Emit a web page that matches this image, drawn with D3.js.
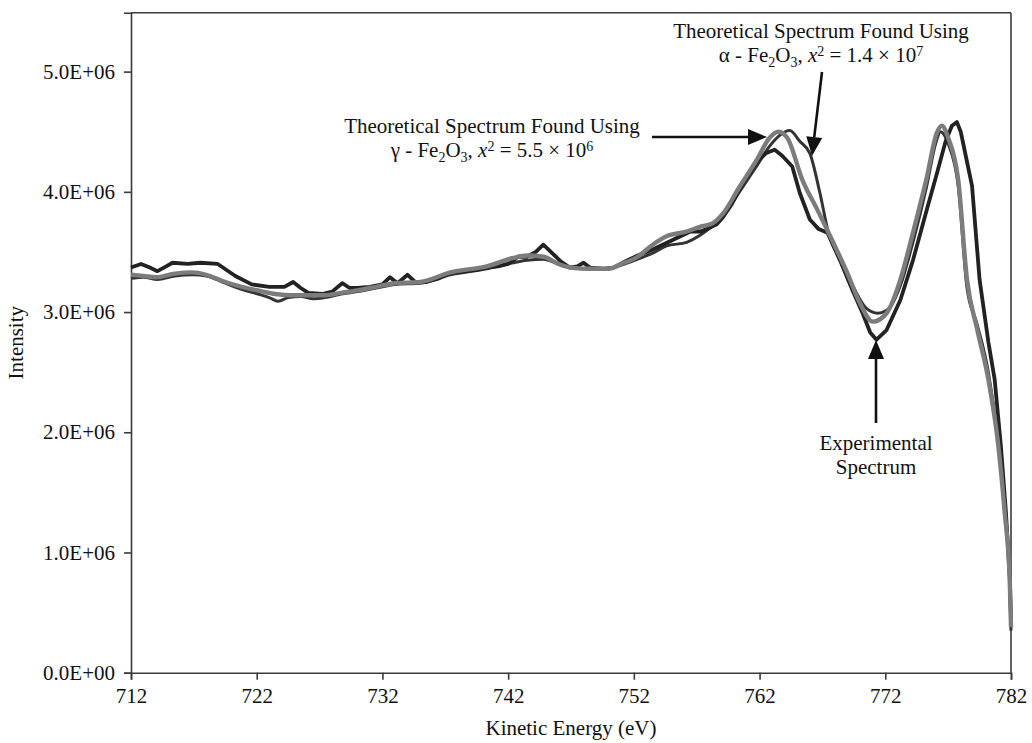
<!DOCTYPE html>
<html><head><meta charset="utf-8">
<script src="https://cdn.jsdelivr.net/npm/d3@7/dist/d3.min.js"></script>
<style>
html,body{margin:0;padding:0;background:#fff;}
svg{display:block;font-family:"Liberation Serif","Times New Roman",serif;}
</style></head>
<body>
<svg id="chart" width="1032" height="743"></svg>
<script>
// ---- data (Kinetic Energy eV, Intensity) ----
const expE = [712.0,712.8,713.5,714.1,714.8,715.3,716.5,717.5,718.9,719.6,720.3,721.6,723.0,724.2,724.9,725.5,726.1,727.2,728.0,728.8,729.4,730.0,731.0,732.0,732.6,733.2,734.0,734.6,735.5,736.5,737.5,738.5,739.5,740.3,741.2,742.0,742.8,743.5,744.2,744.8,745.5,746.2,746.9,747.5,748.0,748.5,749.5,750.4,751.3,752.3,753.5,754.5,755.5,756.5,757.3,758.0,758.6,759.1,759.8,760.4,761.0,761.8,762.5,763.2,763.8,764.6,765.2,766.0,766.7,767.4,768.4,769.4,770.2,770.8,771.3,772.1,773.2,774.2,775.3,776.1,776.8,777.3,777.7,778.0,778.4,778.9,779.5,780.2,780.7,781.2,781.6,781.9,782.0];
const expI = [3.37,3.40,3.37,3.34,3.38,3.41,3.40,3.41,3.40,3.35,3.30,3.23,3.21,3.21,3.25,3.20,3.16,3.15,3.17,3.24,3.20,3.20,3.21,3.23,3.29,3.24,3.31,3.25,3.25,3.28,3.33,3.34,3.35,3.37,3.38,3.40,3.46,3.46,3.50,3.56,3.49,3.42,3.37,3.38,3.41,3.37,3.36,3.37,3.42,3.47,3.52,3.57,3.62,3.67,3.67,3.70,3.73,3.79,3.90,4.02,4.13,4.25,4.32,4.35,4.30,4.21,3.99,3.77,3.69,3.66,3.43,3.18,2.99,2.83,2.77,2.85,3.10,3.43,3.85,4.15,4.42,4.55,4.58,4.50,4.30,4.05,3.27,2.75,2.44,1.88,1.33,0.80,0.45];

const gammaE = [712.0,713.0,714.0,715.5,716.9,718.0,719.5,720.8,722.1,723.5,724.8,726.0,727.4,728.7,730.0,731.5,733.0,735.0,737.4,740.3,742.4,743.5,744.8,746.0,747.0,748.5,750.0,751.0,752.3,753.5,754.6,756.2,757.3,758.3,759.1,760.4,761.8,762.8,763.5,764.2,765.4,766.6,767.9,769.0,770.0,771.0,772.1,773.2,774.2,775.3,776.1,776.5,777.0,777.8,778.5,779.3,780.2,781.0,781.5,781.9,782.0];
const gammaI = [3.31,3.30,3.29,3.32,3.33,3.31,3.25,3.21,3.18,3.15,3.14,3.14,3.14,3.16,3.18,3.21,3.24,3.25,3.33,3.38,3.45,3.47,3.46,3.40,3.37,3.36,3.36,3.40,3.46,3.56,3.63,3.67,3.71,3.74,3.82,4.04,4.27,4.45,4.50,4.45,4.10,3.85,3.57,3.32,3.07,2.92,2.99,3.27,3.66,4.12,4.49,4.55,4.45,4.10,3.27,2.86,2.44,1.88,1.33,0.77,0.38];

const alphaE = [712.0,713.0,714.1,715.5,716.9,718.0,719.5,720.8,722.1,723.0,723.7,724.5,725.5,726.5,727.4,728.7,730.0,731.5,733.0,735.0,737.4,740.3,742.4,743.5,744.8,746.0,747.0,748.5,750.0,751.0,752.3,753.5,754.6,756.2,757.3,758.3,759.1,760.4,761.8,762.8,763.6,764.4,765.2,766.0,766.8,767.5,768.5,769.5,770.5,771.4,772.3,773.2,774.2,775.3,776.0,776.4,777.0,777.8,778.5,779.3,780.2,781.0,781.5,781.9,782.0];
const alphaI = [3.28,3.29,3.27,3.30,3.31,3.30,3.24,3.19,3.15,3.12,3.09,3.12,3.13,3.11,3.12,3.15,3.17,3.20,3.23,3.24,3.31,3.36,3.41,3.43,3.44,3.40,3.37,3.36,3.36,3.39,3.44,3.49,3.55,3.58,3.64,3.72,3.80,4.00,4.22,4.38,4.47,4.51,4.42,4.32,3.99,3.65,3.42,3.20,3.03,2.99,3.03,3.22,3.58,4.05,4.40,4.50,4.40,4.05,3.20,2.90,2.50,1.90,1.35,0.75,0.35];

const xTicks = [712,722,732,742,752,762,772,782];
const yTicks = [0,1e6,2e6,3e6,4e6,5e6];
const yMax = 5.49e6;

// ---- layout ----
const svg = d3.select("#chart");
const L = 131, R = 1011, T = 12.7, B = 672.7;
const FS = "21px", FSS = "14px";
const x = d3.scaleLinear().domain([712,782]).range([L,R]);
const y = d3.scaleLinear().domain([0,yMax]).range([B,T]);
const axisColor = "#3a3a3a";
const fmt = d => (d===0 ? "0.0E+00" : (d/1e6).toFixed(1)+"E+06");

// frame top/right
svg.append("line").attr("x1",L).attr("x2",R).attr("y1",T).attr("y2",T).attr("stroke",axisColor).attr("stroke-width",1.6);
svg.append("line").attr("x1",R).attr("x2",R).attr("y1",T).attr("y2",B).attr("stroke",axisColor).attr("stroke-width",1.6);

const gx = svg.append("g").attr("transform",`translate(0,${B})`)
  .call(d3.axisBottom(x).tickValues(xTicks).tickSize(7).tickPadding(8).tickFormat(d3.format("d")));
const gy = svg.append("g").attr("transform",`translate(${L},0)`)
  .call(d3.axisLeft(y).tickValues(yTicks).tickSize(7).tickPadding(9).tickFormat(fmt));
[gx,gy].forEach(g=>{
  g.select(".domain").attr("stroke",axisColor).attr("stroke-width",1.6);
  g.selectAll(".tick line").attr("stroke",axisColor).attr("stroke-width",1.6);
  g.selectAll(".tick text").attr("fill","#111").style("font-size",FS).style("font-family","'Liberation Serif',serif");
});

// axis titles
svg.append("text").attr("x",571).attr("y",735).attr("text-anchor","middle")
  .style("font-size",FS).attr("fill","#111").text("Kinetic Energy (eV)");
svg.append("text").attr("transform",`translate(23,${(T+B)/2}) rotate(-90)`).attr("text-anchor","middle")
  .style("font-size",FS).attr("fill","#111").text("Intensity");

// ---- curves ----
const line = d3.line().x(d=>x(d[0])).y(d=>y(d[1]*1e6)).curve(d3.curveMonotoneX);
const exp = expE.map((e,i)=>[e,expI[i]]);
const gam = gammaE.map((e,i)=>[e,gammaI[i]]);
const alp = alphaE.map((e,i)=>[e,alphaI[i]]);
const plot = svg.append("g");
plot.append("path").datum(alp).attr("d",line).attr("fill","none").attr("stroke","#333").attr("stroke-width",3).attr("stroke-linejoin","round");
plot.append("path").datum(exp).attr("d",d3.line().x(d=>x(d[0])).y(d=>y(d[1]*1e6))).attr("fill","none").attr("stroke","#222").attr("stroke-width",3.8).attr("stroke-linejoin","round");
plot.append("path").datum(gam).attr("d",line).attr("fill","none").attr("stroke","#7c7c7c").attr("stroke-width",4.4).attr("stroke-linejoin","round");

// ---- annotations ----
function block(cx, y1, gap, first, second) {
  svg.append("text").attr("x",cx).attr("y",y1).attr("text-anchor","middle").style("font-size",FS).attr("fill","#111").text(first);
  const t2 = svg.append("text").attr("x",cx).attr("y",y1+gap).attr("text-anchor","middle").style("font-size",FS).attr("fill","#111");
  second.forEach(p=>{
    const ts = t2.append("tspan").text(p.t);
    if (p.dy) ts.attr("dy",p.dy);
    if (p.small) ts.style("font-size",FSS);
    if (p.it) ts.style("font-style","italic");
  });
}
function chem(greek, mant, ex) {
  return [
    {t: greek + " - Fe"},
    {t:"2", small:true, dy:5},
    {t:"O", dy:-5},
    {t:"3", small:true, dy:5},
    {t:", ", dy:-5},
    {t:"x", it:true},
    {t:"2", small:true, dy:-6},
    {t:" = " + mant + " × 10", dy:6},
    {t:ex, small:true, dy:-6}
  ];
}
block(821, 38, 24, "Theoretical Spectrum Found Using", chem("α","1.4","7"));
block(492, 133, 24, "Theoretical Spectrum Found Using", chem("γ","5.5","6"));
svg.append("text").attr("x",876).attr("y",450).attr("text-anchor","middle").style("font-size",FS).attr("fill","#111").text("Experimental");
svg.append("text").attr("x",876).attr("y",474).attr("text-anchor","middle").style("font-size",FS).attr("fill","#111").text("Spectrum");

function arrow(x1,y1,x2,y2){
  const ang = Math.atan2(y2-y1,x2-x1);
  const hl = 19, hw = 8;
  const bx = x2 - hl*Math.cos(ang), by = y2 - hl*Math.sin(ang);
  svg.append("line").attr("x1",x1).attr("y1",y1).attr("x2",bx).attr("y2",by).attr("stroke","#111").attr("stroke-width",2.6);
  const px = -Math.sin(ang)*hw, py = Math.cos(ang)*hw;
  svg.append("path").attr("d",`M${x2},${y2}L${bx+px},${by+py}L${bx-px},${by-py}Z`).attr("fill","#111");
}
arrow(652,137,767,137);
arrow(822,72,812,156);
arrow(876,423,876,340);
</script>
</body></html>
